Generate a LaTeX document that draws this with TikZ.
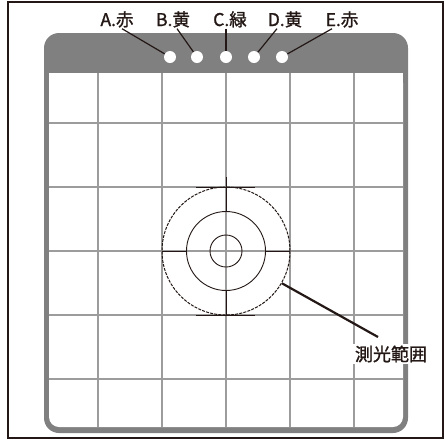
\documentclass[tikz,border=0pt]{standalone}
\usepackage{fontspec}
\setmainfont{Noto Sans CJK JP}
\newfontfamily\jpmed{Noto Sans CJK JP}[FakeBold=1.3]
\definecolor{ink}{HTML}{231815}
\definecolor{panel}{HTML}{808080}
\definecolor{gridc}{HTML}{9C9C9C}
\begin{document}
\begin{tikzpicture}[x=1pt,y=-1pt,
  gridline/.style={gridc, line width=1.4pt},
  dot/.style={circle, fill=white, minimum size=12pt, inner sep=0pt},
  toplbl/.style={font=\jpmed\fontsize{17.5}{17.5}\selectfont, text=ink, inner sep=1pt, anchor=base},
  leader/.style={ink, line width=1.2pt},
  thickleader/.style={ink, line width=2.2pt},
  ring/.style={circle, draw=ink, line width=0.9pt, inner sep=0pt},
  cross/.style={ink, line width=0.9pt},
  bottomlbl/.style={font=\jpmed\fontsize{18}{18}\selectfont, text=ink, fill=white, inner sep=2pt}
]
\useasboundingbox (0,0) rectangle (445,440);
% outer frame
\draw[ink, line width=1.5pt] (8,2) rectangle (443,438);
% panel
\fill[panel, rounded corners=15pt] (44,33) rectangle (408,433);
\fill[white, rounded corners=10pt] (49,73) rectangle (403,427);
\fill[white] (49,73) rectangle (403,95);
% grid
\foreach \gx in {98,162,226,290,354} \draw[gridline] (\gx,73) -- (\gx,427);
\foreach \gy in {123,187,251,315,379} \draw[gridline] (49,\gy) -- (403,\gy);
% darker segments on grid at circle top and bottom
\draw[ink, line width=0.9pt] (196,187) -- (255,187);
\draw[ink, line width=0.9pt] (196,315.5) -- (255,315.5);
% metering circles
\node[ring, line width=1pt, dashed, dash pattern=on 3pt off 1.2pt, minimum size=128pt] (meter) at (226,251) {};
\node[ring, minimum size=79pt] (mid) at (226,251) {};
\node[ring, minimum size=32pt] (inner) at (226,251) {};
\coordinate (ctop) at (226,177);
\coordinate (cbot) at (226,315.5);
\coordinate (cleft) at (162,251);
\coordinate (cright) at (290,251);
\draw[cross] (ctop) -- (mid.north);
\draw[cross] (mid.south) -- (cbot);
\draw[cross] (cleft) -- (mid.west);
\draw[cross] (mid.east) -- (cright);
% dots
\node[dot] (dA) at (170,57) {};
\node[dot] (dB) at (197,57) {};
\node[dot] (dC) at (226,57) {};
\node[dot] (dD) at (254,57) {};
\node[dot] (dE) at (282,57) {};
% top labels
\node[toplbl] (lA) at (117,26) {A.赤};
\node[toplbl] (lB) at (173,26) {B.黄};
\node[toplbl] (lC) at (230,26) {C.緑};
\node[toplbl] (lD) at (285,26) {D.黄};
\node[toplbl] (lE) at (342,26) {E.赤};
\draw[leader] ([xshift=5pt]lA.south) -- (dA);
\draw[leader] ([xshift=4pt]lB.south) -- (dB);
\draw[leader] ([xshift=-4pt]lC.south) -- (dC);
\draw[leader] ([xshift=-8pt]lD.south) -- (dD);
\draw[leader] ([xshift=-10pt]lE.south) -- (dE);
% bottom label
\node[bottomlbl] (mlbl) at (391,354) {測光範囲};
\coordinate (mend) at (378,337);
\draw[thickleader] (meter.-30) -- (mend);
\end{tikzpicture}
\end{document}
